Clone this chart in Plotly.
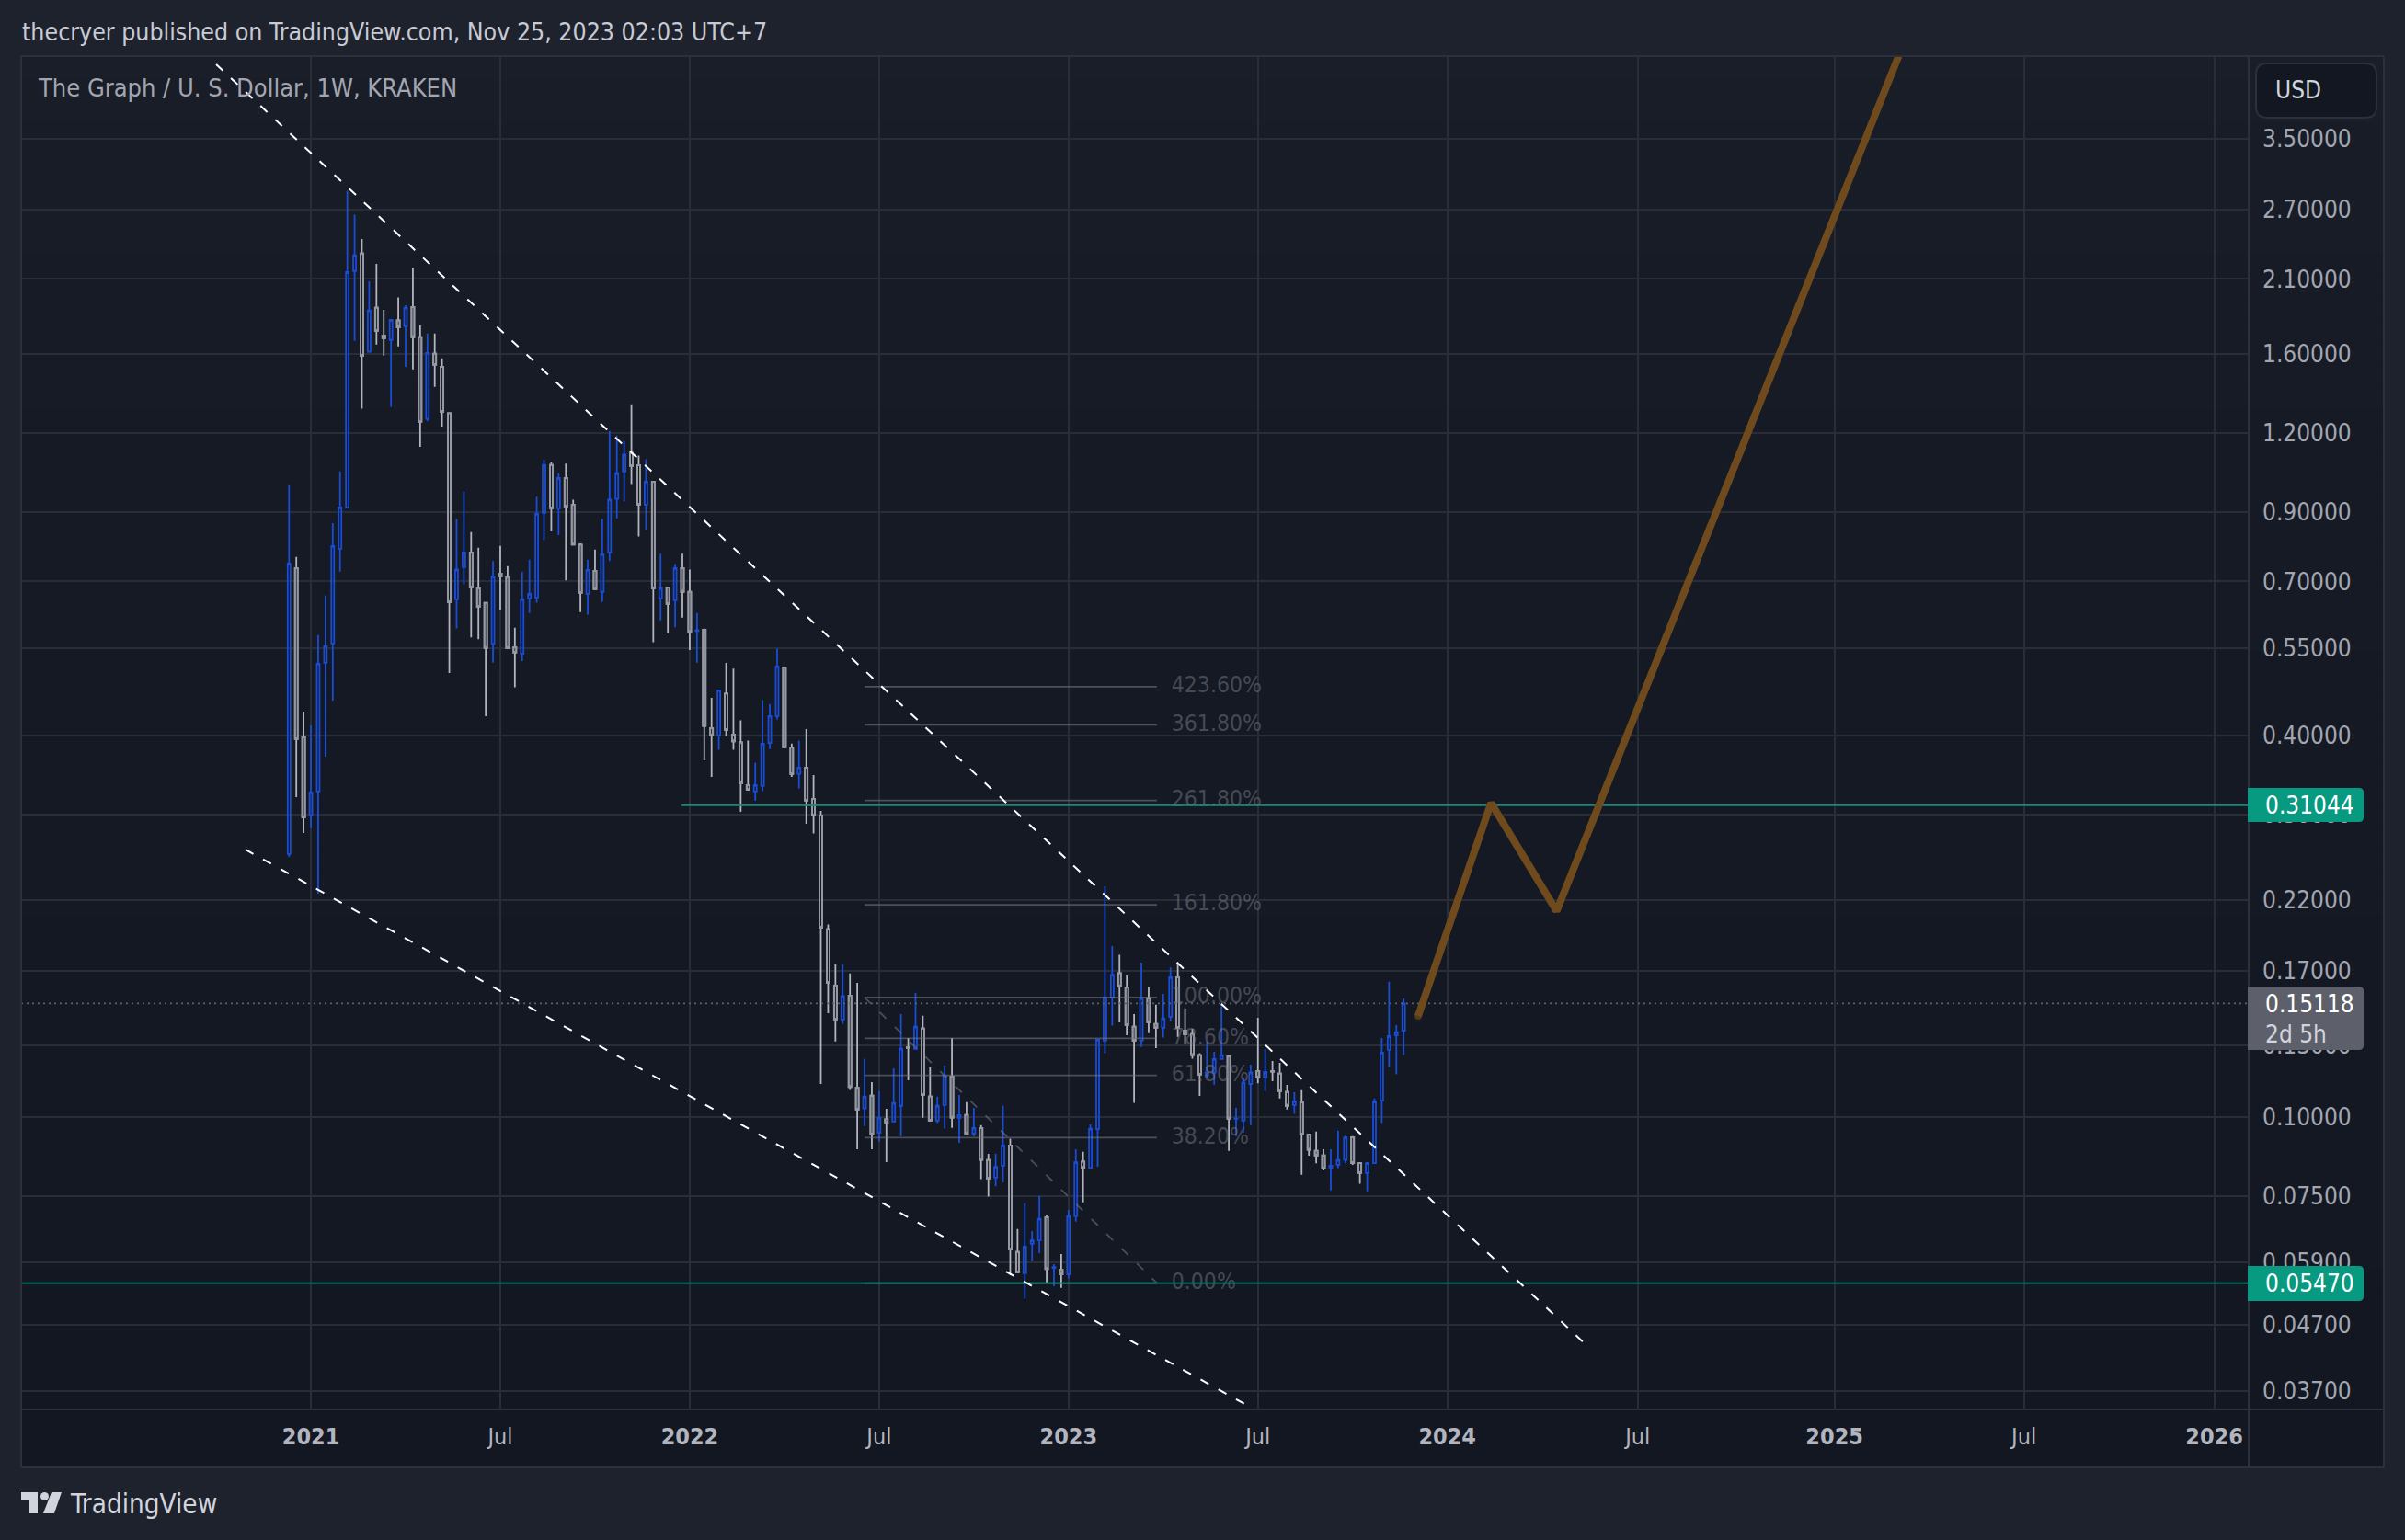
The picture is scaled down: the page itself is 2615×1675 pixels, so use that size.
import math
from datetime import date, timedelta
import plotly.graph_objects as go

first_bar = date(2020, 12, 14)

opens = [.2601,.7351,.3974,.2992,.3263,.5208,.5587,.7884,.9160,2.162,2.304,1.612,1.893,1.711,1.683,1.807,1.769,1.897,1.701,1.263,
1.602,1.527,1.290,.6561,.7375,.7780,.6830,.6480,.5578,.7204,.7114,.5513,.5385,.6583,.6605,.8979,1.069,.9130,1.019,.9253,
.8001,.6694,.7277,.6740,.7780,.9447,1.044,1.116,1.068,.9253,1.006,.6583,.6852,.6539,.7351,.6740,.5848,.5875,.4109,.4001,
.4657,.4014,.3901,.3340,.3263,.3329,.3894,.4292,.5125,.3831,.3480,.3560,.3177,.2992,.1980,.1613,.1426,.1555,.1112,.1032,
.1081,.0945,.0992,.0984,.1042,.1290,.1281,.1380,.1078,.0987,.1045,.1159,.0997,.1008,.0942,.0961,.0856,.0803,.0838,.0902,
.0613,.0567,.0631,.0639,.0695,.0578,.0574,.0565,.0698,.0851,.0832,.0957,.1320,.1545,.1687,.1602,.1389,.1320,.1541,.1403,
.1383,.1440,.1662,.1369,.1352,.1253,.1163,.1176,.1235,.1247,.0994,.0987,.1128,.1182,.1155,.1182,.1172,.1096,.1045,.1056,
.0939,.0885,.0870,.0832,.0841,.0856,.0930,.0846,.0816,.0846,.1062,.1277,.1346,.1369]
highs = [.9927,.7651,.4364,.4150,.5760,.6649,.8655,1.044,2.894,2.653,2.428,2.083,2.219,1.878,1.813,1.965,1.910,2.182,1.775,1.723,
1.723,1.574,1.294,.8783,.9698,.8371,.7909,.6495,.7537,.7962,.7399,.5915,.7252,.7575,.9520,1.090,1.079,1.037,1.074,.9424,
.8042,.7575,.7858,.8783,1.209,1.189,1.165,1.332,1.106,1.091,1.009,.7741,.6863,.7459,.7741,.7309,.6240,.5896,.4588,.4728,
.5208,.5098,.4226,.3927,.3625,.4548,.4486,.5485,.5133,.3883,.3927,.4095,.3465,.3042,.2014,.1741,.1741,.1685,.1629,.1235,
.1136,.1099,.1031,.1194,.1454,.1333,.1570,.1445,.1198,.1077,.1206,.1333,.1084,.1056,.1034,.0971,.0875,.0875,.1042,.0925,
.0666,.0731,.0661,.0751,.0700,.0586,.0608,.0714,.0890,.0882,.0974,.1329,.2313,.1862,.1803,.1673,.1454,.1753,.1602,.1504,
.1565,.1723,.1754,.1484,.1378,.1261,.1316,.1268,.1504,.1248,.1034,.1155,.1210,.1435,.1281,.1226,.1218,.1124,.1095,.1103,
.0942,.0949,.0890,.0890,.0952,.0935,.0933,.0849,.0849,.1070,.1333,.1635,.1397,.1539]
lows = [.2574,.3198,.2808,.2856,.2252,.3705,.4542,.7252,.9160,1.677,1.311,1.611,1.655,1.590,1.320,1.644,1.527,1.512,1.142,1.252,
1.419,1.229,.5020,.5904,.6922,.5711,.5674,.4292,.5212,.6303,.5494,.4767,.5243,.6240,.6480,.8133,.8398,.8287,.7025,.7985,
.6261,.6205,.6807,.6504,.7537,.8801,.9364,.9969,.8241,.8441,.5615,.6076,.5798,.5925,.6137,.5458,.5212,.3656,.3443,.3797,
.3988,.3797,.3032,.3274,.3156,.3268,.3809,.4242,.3831,.3443,.3301,.2903,.2803,.1128,.1459,.1316,.1403,.1104,.0890,.0968,
.0890,.0915,.0849,.0984,.0933,.1143,.1281,.0998,.0987,.0979,.0959,.0962,.0911,.0942,.0933,.0798,.0749,.0778,.0789,.0563,
.0569,.0517,.0593,.0610,.0548,.0541,.0538,.0556,.0684,.0734,.0832,.0835,.1261,.1394,.1411,.1346,.1053,.1290,.1356,.1285,
.1335,.1416,.1339,.1302,.1236,.1080,.1154,.1125,.1235,.0885,.0933,.0946,.0971,.1131,.1099,.1139,.1070,.1028,.1012,.0811,
.0869,.0846,.0824,.0766,.0831,.0846,.0841,.0785,.0764,.0846,.0979,.1200,.1168,.1253]
closes = [.7474,.3948,.2971,.3252,.5191,.5531,.7962,.9160,2.153,2.290,1.588,1.874,1.740,1.694,1.810,1.761,1.893,1.700,1.250,1.606,
1.537,1.296,.6495,.7309,.7780,.6852,.6388,.5494,.7132,.7132,.5494,.5403,.6561,.6694,.8949,1.069,.9130,1.019,.9191,.8001,
.6717,.7301,.6807,.7728,.9424,1.037,1.110,1.065,.9253,1.006,.6830,.6830,.6452,.7351,.6740,.5828,.5867,.4140,.4001,.4712,
.4082,.3915,.3362,.3285,.3340,.3883,.4292,.5139,.3831,.3477,.3560,.3156,.2992,.1990,.1629,.1426,.1552,.1115,.1028,.1078,
.0939,.0998,.0981,.1053,.1282,.1285,.1389,.1084,.0987,.1042,.1163,.0998,.1007,.0942,.0961,.0856,.0800,.0835,.0902,.0618,
.0569,.0625,.0639,.0691,.0576,.0580,.0565,.0698,.0849,.0831,.0959,.1325,.1545,.1678,.1608,.1397,.1320,.1539,.1411,.1383,
.1431,.1662,.1383,.1352,.1253,.1167,.1176,.1235,.1253,.0994,.0995,.1134,.1176,.1155,.1178,.1180,.1099,.1042,.1059,.0939,
.0888,.0870,.0830,.0838,.0856,.0929,.0846,.0816,.0846,.1058,.1264,.1342,.1361,.15118]

x_ticks = [date(2021,1,4),date(2021,7,5),date(2022,1,3),date(2022,7,4),date(2023,1,2),date(2023,7,3),date(2024,1,1),date(2024,7,2),date(2025,1,7),date(2025,7,8),date(2026,1,7)]
x_labels = ["<b>2021</b>","Jul","<b>2022</b>","Jul","<b>2023</b>","Jul","<b>2024</b>","Jul","<b>2025</b>","Jul","<b>2026</b>"]
y_ticks = [3.5,2.7,2.1,1.6,1.2,.9,.7,.55,.40,.30,.22,.17,.13,.10,.075,.059,.047,.037]

upper_x = [date(2020,10,5), date(2024,5,11)]
upper_y = [4.58, .0441]
lower_x = [date(2020,11,2), date(2023,7,1)]
lower_y = [.2644, .03449]
brown_x = [date(2023,12,4), date(2024,2,12), date(2024,4,15), date(2025,3,17)]
brown_y = [.1444, .3131, .2114, 5.06]
fib_x = [date(2022,6,20), date(2023,3,28)]
fib_label_x = date(2023,4,11)
fib_names = ["423.60%","361.80%","261.80%","161.80%","100.00%","78.60%","61.80%","38.20%","0.00%"]
fib_prices = [.4775,.4158,.3160,.2162,.1545,.1331,.1164,.0928,.0547]
level_high = .31044
level_high_start = date(2021,12,26)
level_low = .0547
last_price = .15118
x_min, x_max = "2020-03-31 14:00", "2026-02-09"
y_min, y_max = 0.03458, 4.72

W, H = 2615, 1675
L, R, T, B = 23, 2445, 61, 1533
FONT = "DejaVu Sans Condensed"
BLUE = "#1a4dd6"
CLEAR = "rgba(0,0,0,0)"

def px(x): return (x - L) / (R - L)
def py(y): return 1 - (y - T) / (B - T)

def rrect(x0, y0, x1, y1, rl, rr):
    a, b, c, d = px(x0), py(y0), px(x1), py(y1)
    fx, fy = 1/(R-L), 1/(B-T)
    return (f"M{a+rl*fx},{b} L{c-rr*fx},{b} Q{c},{b} {c},{b-rr*fy} L{c},{d+rr*fy} Q{c},{d} {c-rr*fx},{d} "
            f"L{a+rl*fx},{d} Q{a},{d} {a},{d+rl*fy} L{a},{b-rl*fy} Q{a},{b} {a+rl*fx},{b} Z")

bars_x = [first_bar + timedelta(days=7*i) for i in range(len(opens))]
fig = go.Figure()

# candles: wicks and bodies, then grey bodies in their slightly darker tone
fig.add_trace(go.Candlestick(x=bars_x, open=opens, high=highs, low=lows, close=closes, whiskerwidth=0,
    increasing=dict(line=dict(color=BLUE, width=1.8), fillcolor=CLEAR),
    decreasing=dict(line=dict(color="#b2b5be", width=1.8), fillcolor=CLEAR), hoverinfo="skip"))
grey = [i for i in range(len(opens)) if closes[i] < opens[i]]
fig.add_trace(go.Candlestick(x=[bars_x[i] for i in grey], open=[opens[i] for i in grey],
    high=[opens[i] for i in grey], low=[closes[i] for i in grey], close=[closes[i] for i in grey], whiskerwidth=0,
    increasing=dict(line=dict(color="#9598a1", width=1.8), fillcolor=CLEAR),
    decreasing=dict(line=dict(color="#9598a1", width=1.8), fillcolor=CLEAR), hoverinfo="skip"))

def line(x, y, color, width, dash="solid"):
    fig.add_trace(go.Scatter(x=x, y=y, mode="lines", hoverinfo="skip", line=dict(color=color, width=width, dash=dash)))

FIBC = "rgba(120,123,134,0.55)"
for p in fib_prices:
    line(fib_x, [p, p], FIBC, 1.8)
line(fib_x, [fib_prices[4], fib_prices[8]], FIBC, 1.8, "10px,13px")
fig.add_trace(go.Scatter(x=[fib_label_x]*len(fib_prices), y=fib_prices, text=fib_names, mode="text",
    textposition="middle right", hoverinfo="skip", textfont=dict(family=FONT, size=24.5, color="rgba(120,123,134,0.5)")))

line([x_min, x_max], [last_price]*2, "#5d606b", 1.8, "2px,4px")
line([level_high_start, x_max], [level_high]*2, "#0b8f79", 1.8)
line([x_min, x_max], [level_low]*2, "#0b8a76", 1.8)
line(upper_x, upper_y, "#ffffff", 2, "10px,12px")
line(lower_x, lower_y, "#ffffff", 2, "10px,12px")
fig.add_trace(go.Scatter(x=brown_x, y=brown_y, mode="lines+markers", hoverinfo="skip",
    line=dict(color="#6e4a1c", width=8), marker=dict(color="#6e4a1c", size=[8,0,0,0], line=dict(width=0))))

shapes = []
# panel gradient
N = 64
top_c, bot_c = (0x1a,0x1e,0x29), (0x13,0x17,0x22)
for i in range(N):
    t = (i / (N - 1)) ** 0.5
    c = tuple(round(a + (b - a) * t) for a, b in zip(top_c, bot_c))
    y0 = T + (1596 - T) * i / N
    y1 = T + (1596 - T) * (i + 1) / N + 1
    shapes.append(dict(type="rect", xref="paper", yref="paper", layer="below", x0=px(L), x1=px(2592), y0=py(y0), y1=py(y1),
                       fillcolor="rgb(%d,%d,%d)" % c, line=dict(width=0)))
BORDER = "#2c303b"
for (a, b, c, d) in [(L,T,2592,T),(L,1596,2592,1596),(L,T,L,1596),(2592,T,2592,1596),(R,T,R,1596),(L,B,2592,B)]:
    shapes.append(dict(type="line", xref="paper", yref="paper", layer="above", x0=px(a), x1=px(c), y0=py(b), y1=py(d),
                       line=dict(color=BORDER, width=2)))
def tag(x0, y0, x1, y1, color, rl=0, rr=5, border=None):
    shapes.append(dict(type="path", xref="paper", yref="paper", layer="above", path=rrect(x0, y0, x1, y1, rl, rr),
                       fillcolor=color, line=dict(width=2 if border else 0, color=border or color)))
tag(2444, 857, 2570, 894, "#089981")
tag(2444, 1377, 2570, 1415, "#089981")
tag(2444, 1073, 2570, 1142, "#5d606b")
tag(2453, 69, 2584, 128, "#131722", 12, 12, "#2c303b")
# TradingView mark
LOGO = "#d1d4dc"
def poly(pts):
    return "M" + " L".join(f"{px(a)},{py(b)}" for a, b in pts) + " Z"
shapes.append(dict(type="path", xref="paper", yref="paper", layer="above", fillcolor=LOGO, line=dict(width=0),
    path=poly([(23,1623),(41,1623),(41,1646),(32,1646),(32,1632),(23,1632)])))
shapes.append(dict(type="path", xref="paper", yref="paper", layer="above", fillcolor=LOGO, line=dict(width=0),
    path=poly([(56,1623),(67,1623),(59,1646),(47,1646)])))
shapes.append(dict(type="circle", xref="paper", yref="paper", layer="above", fillcolor=LOGO, line=dict(width=0),
    x0=px(44), x1=px(53), y0=py(1623), y1=py(1632)))

def label(x, y, text, color, size=26, anchor="left"):
    return dict(xref="paper", yref="paper", x=px(x), y=py(y), text=text, showarrow=False, xanchor=anchor, yanchor="middle",
                align="left", borderpad=0, font=dict(family=FONT, size=size, color=color))
annotations = [
    label(23, 35, "thecryer published on TradingView.com, Nov 25, 2023 02:03 UTC+7", "#c8cad4", 26.5),
    label(40, 95, "The Graph / U. S. Dollar, 1W, KRAKEN", "#a3a6b0", 27),
    label(2473, 98, "USD", "#d1d4dc"),
    label(2462, 875.7, "0.31044", "#ffffff"),
    label(2462, 1395.7, "0.05470", "#ffffff"),
    label(2462, 1092, "0.15118", "#ffffff"),
    label(2462, 1125, "2d 5h", "#d1d4dc"),
    label(75, 1636, "TradingView", "#d1d4dc", 29.4),
]

fig.update_layout(width=W, height=H, autosize=False, margin=dict(l=L, r=W-R, t=T, b=H-B, pad=0),
    paper_bgcolor="#1e222d", plot_bgcolor=CLEAR, showlegend=False, hovermode=False, boxmode="overlay", boxgap=0.46,
    shapes=shapes, annotations=annotations,
    font=dict(family=FONT, size=26, color="#a3a6b0"),
    xaxis=dict(type="date", range=[x_min, x_max], tickmode="array", tickvals=x_ticks, ticktext=x_labels,
        showgrid=True, gridcolor="#292d38", gridwidth=1.7, zeroline=False, showline=False, ticks="", rangeslider=dict(visible=False),
        tickfont=dict(family=FONT, size=25, color="#b2b5be"), ticklabelstandoff=12),
    yaxis=dict(type="log", side="right", range=[math.log10(y_min), math.log10(y_max)], tickmode="array", tickvals=y_ticks,
        ticktext=["%.5f" % v for v in y_ticks], showgrid=True, gridcolor="#292d38", gridwidth=1.7, zeroline=False, showline=False,
        ticks="", tickfont=dict(family=FONT, size=26, color="#a3a6b0"), ticklabelstandoff=14))

fig.write_html("out.html", config=dict(displayModeBar=False),
               post_script="document.body.style.margin='0';document.body.style.overflow='hidden';")
